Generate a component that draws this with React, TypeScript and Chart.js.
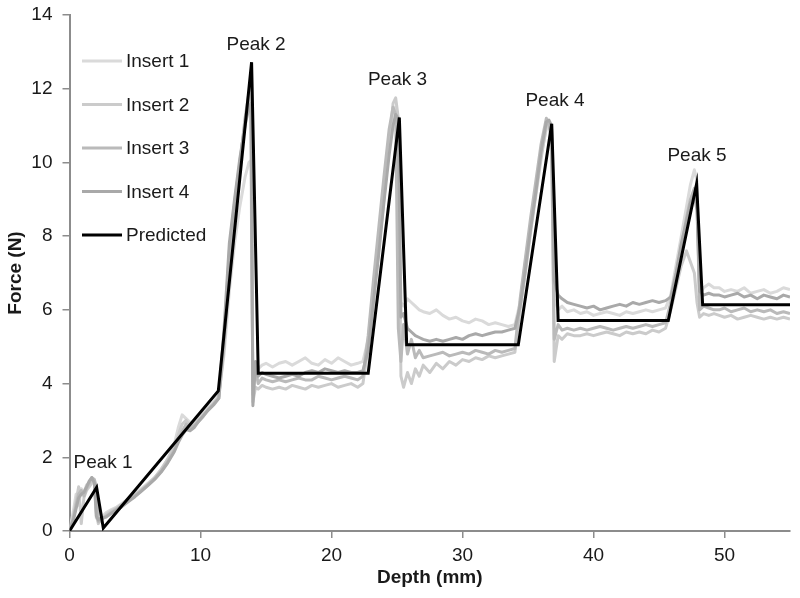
import React, { useEffect, useRef } from "react";
import { Chart, registerables } from "chart.js";
Chart.register(...registerables);

// Shared depth grid (mm) for the measured inserts
const insertDepth = [
  0, 0.3, 0.5, 0.7, 0.9, 1.1, 1.3, 1.5, 1.7, 1.9, 2.05, 2.2, 2.4,
  2.8, 3.2, 3.6, 4.0, 4.5, 5.0, 5.5, 6.0, 6.5, 7.0, 7.5, 8.0, 8.3, 8.6, 8.9, 9.2, 9.5, 9.8, 10.2, 10.6, 11.0, 11.4,
  11.8, 12.2, 12.6, 13.0, 13.4, 13.7, 13.85, 14.0, 14.2, 14.4, 14.7, 15.0,
  15.5, 16.0, 16.5, 17.0, 17.5, 18.0, 18.5, 19.0, 19.5, 20.0, 20.5, 21.0, 21.5, 22.0, 22.4,
  22.8, 23.2, 23.6, 24.0, 24.4, 24.7, 24.9, 25.1, 25.3, 25.5, 25.8, 26.1, 26.4, 26.7, 27.0,
  27.5, 28.0, 28.5, 29.0, 29.5, 30.0, 30.5, 31.0, 31.5, 32.0, 32.5, 33.0, 33.5, 34.0,
  34.4, 34.8, 35.2, 35.6, 36.0, 36.4, 36.6, 36.8, 37.0, 37.3, 37.6, 38.0, 38.5,
  39.0, 39.5, 40.0, 40.5, 41.0, 41.5, 42.0, 42.5, 43.0, 43.5, 44.0, 44.5, 45.0, 45.5,
  45.9, 46.3, 46.7, 47.1, 47.4, 47.7, 47.9, 48.1, 48.4, 48.8, 49.2,
  49.6, 50.0, 50.5, 51.0, 51.5, 52.0, 52.5, 53.0, 53.5, 54.0, 54.5, 55.0,
];

const insert1 = [
  0, 0.55, 1.0, 0.7, 1.15, 1.05, 1.25, 1.3, 1.4, 1.25, 0.35, 0.3, 0.35,
  0.5, 0.58, 0.65, 0.75, 0.88, 1.0, 1.15, 1.3, 1.45, 1.65, 1.95, 2.35, 2.8, 3.15, 3.05, 2.95, 2.95, 3.05, 3.2, 3.35, 3.5, 3.7,
  4.8, 6.5, 7.8, 8.8, 9.6, 10.0, 10.05, 4.0, 4.3, 4.4, 4.5, 4.55,
  4.45, 4.55, 4.6, 4.5, 4.6, 4.7, 4.55, 4.5, 4.65, 4.55, 4.7, 4.6, 4.5, 4.55, 4.6,
  5.2, 6.6, 7.9, 9.3, 10.6, 11.4, 11.5, 10.8, 6.2, 6.1, 6.3, 6.2, 6.1, 6.0, 5.95,
  5.9, 6.0, 5.85, 5.75, 5.8, 5.7, 5.65, 5.75, 5.7, 5.6, 5.65, 5.6, 5.55, 5.6,
  6.2, 7.3, 8.3, 9.3, 10.2, 10.9, 11.0, 10.8, 6.3, 6.0, 6.1, 5.95, 6.0,
  5.9, 5.95, 5.85, 5.9, 5.95, 5.9, 5.85, 5.95, 5.9, 5.95, 6.0, 5.95, 6.0, 6.05,
  6.4, 7.2, 8.0, 8.8, 9.4, 9.8, 9.5, 6.4, 6.6, 6.7, 6.6,
  6.6, 6.5, 6.55, 6.5, 6.6, 6.45, 6.5, 6.55, 6.45, 6.5, 6.6, 6.55,
];

const insert2 = [
  0, 0.4, 0.8, 1.2, 0.2, 0.9, 1.1, 1.2, 1.3, 1.35, 0.5, 0.2, 0.3,
  0.45, 0.55, 0.62, 0.72, 0.85, 0.98, 1.12, 1.28, 1.45, 1.68, 1.95, 2.3, 2.6, 2.9, 3.0, 2.85, 2.9, 3.0, 3.15, 3.3, 3.45, 3.65,
  5.2, 7.6, 8.9, 10.0, 11.1, 11.7, 11.8, 3.5, 3.9, 3.85, 3.95, 3.9,
  3.85, 3.9, 3.85, 3.95, 3.9, 3.85, 3.95, 3.9, 3.95, 4.0, 3.9, 3.95, 4.0, 3.9, 4.0,
  5.0, 6.3, 7.6, 9.0, 10.5, 11.6, 11.75, 11.2, 4.2, 3.9, 4.3, 4.0, 4.4, 4.2, 4.5,
  4.3, 4.55, 4.4, 4.6, 4.5, 4.65, 4.6, 4.7, 4.65, 4.75, 4.7, 4.75, 4.8, 4.85,
  6.0, 7.0, 8.1, 9.1, 10.1, 11.0, 11.1, 10.9, 4.6, 5.3, 5.2, 5.35, 5.3,
  5.3, 5.35, 5.3, 5.35, 5.4, 5.35, 5.3, 5.4, 5.35, 5.4, 5.35, 5.45, 5.4, 5.5,
  6.0, 6.6, 7.2, 7.6, 7.3, 7.0, 6.2, 5.8, 5.9, 5.85, 5.9,
  5.85, 5.8, 5.85, 5.75, 5.8, 5.85, 5.8, 5.75, 5.8, 5.75, 5.8, 5.75,
];

const insert3 = [
  0, 0.35, 0.7, 1.0, 1.1, 0.95, 1.15, 1.3, 1.45, 1.4, 1.2, 0.25, 0.3,
  0.4, 0.5, 0.6, 0.7, 0.82, 0.95, 1.1, 1.25, 1.42, 1.62, 1.88, 2.2, 2.45, 2.7, 2.9, 2.8, 2.85, 2.95, 3.1, 3.3, 3.45, 3.6,
  5.0, 7.2, 8.7, 9.9, 11.2, 11.9, 12.1, 3.7, 4.4, 4.0, 4.15, 4.1,
  4.05, 4.1, 4.05, 4.1, 4.15, 4.1, 4.1, 4.2, 4.15, 4.1, 4.15, 4.2, 4.15, 4.1, 4.2,
  5.3, 6.8, 8.2, 9.6, 10.9, 11.5, 11.3, 5.5, 4.6, 5.6, 4.8, 5.2, 4.7, 4.9, 4.7,
  4.75, 4.8, 4.85, 4.75, 4.8, 4.85, 4.8, 4.9, 4.85, 4.8, 4.9, 4.85, 4.9, 4.95,
  6.3, 7.4, 8.5, 9.5, 10.5, 11.2, 11.0, 10.6, 5.2, 5.6, 5.45, 5.5, 5.45,
  5.5, 5.45, 5.5, 5.55, 5.5, 5.45, 5.5, 5.55, 5.5, 5.55, 5.6, 5.55, 5.6, 5.65,
  6.2, 6.9, 7.7, 8.5, 9.0, 9.3, 9.0, 6.0, 6.1, 6.05, 6.0,
  6.0, 6.05, 5.95, 6.0, 6.05, 5.95, 6.0, 5.95, 6.0, 5.9, 5.95, 5.9,
];

const insert4 = [
  0, 0.3, 0.6, 0.9, 1.0, 1.05, 1.2, 1.35, 1.45, 1.3, 0.4, 0.3, 0.35,
  0.38, 0.48, 0.57, 0.66, 0.8, 0.93, 1.08, 1.24, 1.4, 1.6, 1.85, 2.15, 2.4, 2.6, 2.75, 2.72, 2.8, 2.95, 3.12, 3.28, 3.42, 3.6,
  5.5, 7.8, 9.0, 10.1, 11.0, 11.5, 11.6, 3.4, 4.6, 4.2, 4.3, 4.25,
  4.2, 4.15, 4.2, 4.25, 4.2, 4.3, 4.35, 4.3, 4.4, 4.35, 4.3, 4.35, 4.3, 4.3, 4.35,
  4.9, 6.2, 7.5, 8.9, 10.2, 11.0, 11.3, 11.2, 5.8, 5.9, 5.5, 5.4, 5.3, 5.25, 5.2,
  5.15, 5.2, 5.15, 5.2, 5.25, 5.2, 5.3, 5.35, 5.3, 5.35, 5.4, 5.4, 5.45, 5.5,
  6.1, 7.1, 8.2, 9.2, 10.3, 11.1, 11.15, 11.0, 6.8, 6.4, 6.3, 6.2, 6.15,
  6.1, 6.05, 6.1, 6.0, 6.05, 6.1, 6.15, 6.1, 6.2, 6.15, 6.2, 6.25, 6.2, 6.25,
  6.35, 7.0, 7.8, 8.4, 8.9, 9.1, 8.7, 6.5, 6.4, 6.45, 6.4,
  6.4, 6.35, 6.4, 6.45, 6.35, 6.4, 6.3, 6.4, 6.35, 6.3, 6.4, 6.35,
];

const predictedDepth = [0, 2.07, 2.58, 11.36, 13.9, 14.41, 22.8, 25.18, 25.74, 34.26, 36.81, 37.3, 45.71, 47.87, 48.33, 55];
const predictedForce = [0, 1.18, 0.08, 3.8, 12.72, 4.28, 4.28, 11.22, 5.05, 5.05, 11.05, 5.71, 5.71, 9.42, 6.14, 6.14];

const seriesLabels = ["Insert 1", "Insert 2", "Insert 3", "Insert 4", "Predicted"];
const seriesColors = ["#dadada", "#cbcbcb", "#bababa", "#a9a9a9", "#000000"];

const peakLabels = ["Peak 1", "Peak 2", "Peak 3", "Peak 4", "Peak 5"];
const peakLabelX = [2.56, 14.24, 25.04, 37.06, 47.9];
const peakLabelY = [1.85, 13.2, 12.23, 11.66, 10.19];

const xTicksStep = 10;
const yTicksStep = 2;

const FONT = '"Liberation Sans", Arial, Helvetica, sans-serif';

const pts = (xs: number[], ys: number[]) => xs.map((x, i) => ({ x, y: ys[i] }));

const overlayPlugin = {
  id: "overlay",
  afterDatasetsDraw(chart: any) {
    const { ctx, chartArea, scales } = chart;
    ctx.save();
    ctx.font = `19px ${FONT}`;
    ctx.fillStyle = "#1a1a1a";
    ctx.textAlign = "center";
    ctx.textBaseline = "middle";
    peakLabels.forEach((t, i) => {
      ctx.fillText(t, scales.x.getPixelForValue(peakLabelX[i]), scales.y.getPixelForValue(peakLabelY[i]));
    });
    ctx.textAlign = "left";
    chart.data.datasets.forEach((ds: any, i: number) => {
      const y = chartArea.top + 46 + i * 43.5;
      const x0 = chartArea.left + 12.5;
      ctx.strokeStyle = ds.borderColor;
      ctx.lineWidth = ds.borderWidth;
      ctx.beginPath();
      ctx.moveTo(x0, y);
      ctx.lineTo(x0 + 40, y);
      ctx.stroke();
      ctx.fillStyle = "#1a1a1a";
      ctx.fillText(ds.label, x0 + 44, y + 1);
    });
    ctx.restore();
  },
};

export default function App() {
  const ref = useRef<HTMLCanvasElement | null>(null);
  useEffect(() => {
    document.body.style.margin = "0";
    const canvas = ref.current;
    if (!canvas) return;
    const insertData = [insert1, insert2, insert3, insert4];
    const datasets: any[] = insertData.map((ys, i) => ({
      label: seriesLabels[i],
      data: pts(insertDepth, ys),
      borderColor: seriesColors[i],
      backgroundColor: seriesColors[i],
      borderWidth: 3,
      pointRadius: 0,
      tension: 0,
      borderJoinStyle: "round",
      order: 5 - i,
    }));
    datasets.push({
      label: seriesLabels[4],
      data: pts(predictedDepth, predictedForce),
      borderColor: seriesColors[4],
      backgroundColor: seriesColors[4],
      borderWidth: 3,
      pointRadius: 0,
      tension: 0,
      order: 0,
    });
    const axisColor = "#8c8c8c";
    const chart = new Chart(canvas, {
      type: "line",
      data: { datasets },
      options: {
        animation: false,
        responsive: false,
        devicePixelRatio: 1,
        layout: { padding: { top: 15, right: 10, left: 0, bottom: 0 } },
        plugins: { legend: { display: false }, tooltip: { enabled: false } },
        scales: {
          x: {
            type: "linear",
            min: 0,
            max: 55,
            afterFit: (s: any) => { s.height = 67; },
            ticks: { stepSize: xTicksStep, includeBounds: false, color: "#1a1a1a", font: { family: FONT, size: 19 }, padding: 6, maxRotation: 0 },
            grid: { drawOnChartArea: false, drawTicks: true, tickLength: 7, color: axisColor, lineWidth: 1.5 },
            border: { display: true, color: axisColor, width: 2 },
            title: { display: true, text: "Depth (mm)", color: "#1a1a1a", font: { family: FONT, size: 19, weight: "bold" }, padding: { top: 4, bottom: 9 } },
          },
          y: {
            type: "linear",
            min: 0,
            max: 14,
            afterFit: (s: any) => { s.width = 69.5; s.paddingTop = 0; s.paddingBottom = 0; },
            ticks: { stepSize: yTicksStep, color: "#1a1a1a", font: { family: FONT, size: 19 }, padding: 10 },
            grid: { drawOnChartArea: false, drawTicks: true, tickLength: 7, color: axisColor, lineWidth: 1.5 },
            border: { display: true, color: axisColor, width: 2 },
            title: { display: true, text: "Force (N)", color: "#1a1a1a", font: { family: FONT, size: 19, weight: "bold" }, padding: { top: 4, bottom: 4 } },
          },
        },
      },
      plugins: [overlayPlugin],
    } as any);
    return () => chart.destroy();
  }, []);
  return (
    <div style={{ width: 800, height: 598 }}>
      <canvas ref={ref} width={800} height={598} style={{ display: "block", width: 800, height: 598 }} />
    </div>
  );
}
